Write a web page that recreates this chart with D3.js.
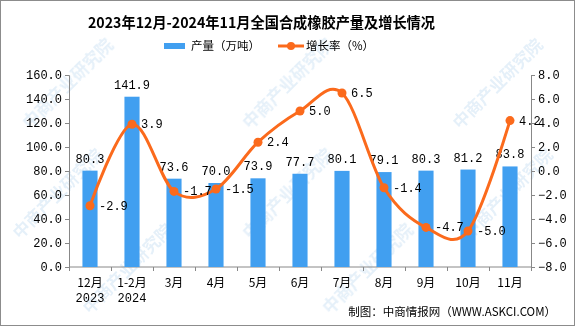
<!DOCTYPE html>
<html>
<head>
<meta charset="utf-8">
<script src="https://cdn.jsdelivr.net/npm/d3@7"></script>
<style>
  body { margin: 0; background: #fff; }
  svg { display: block; }
  .tick text { font-family: "Liberation Mono", monospace; font-size: 12px; fill: #000; }
</style>
</head>
<body>
<div id="chart"></div>
<script>
// chart data
const months = ["12月", "1-2月", "3月", "4月", "5月", "6月", "7月", "8月", "9月", "10月", "11月"];
const years = ["2023", "2024", "", "", "", "", "", "", "", "", ""];
const production = [80.3, 141.9, 73.6, 70.0, 73.9, 77.7, 80.1, 79.1, 80.3, 81.2, 83.8];
const growth = [-2.9, 3.9, -1.7, -1.5, 2.4, 5.0, 6.5, -1.4, -4.7, -5.0, 4.2];
const leftTicks = [0, 20, 40, 60, 80, 100, 120, 140, 160];
const rightTicks = [-8, -6, -4, -2, 0, 2, 4, 6, 8];

const width = 575, height = 326;
const margin = {top: 75, right: 44, bottom: 59, left: 69};

const svg = d3.select("#chart").append("svg")
  .attr("width", width)
  .attr("height", height);

// outer border
svg.append("rect")
  .attr("x", 0.5).attr("y", 0.5)
  .attr("width", width - 1).attr("height", height - 1)
  .attr("fill", "#fff")
  .attr("stroke", "#8c8c8c");

// faint watermark
const wm = svg.append("g").attr("fill", "#b5d4ee").attr("opacity", 0.35)
  .style("font-family", "Noto Sans CJK SC").style("font-size", "17px").style("font-weight", "bold");
[[30, 130], [250, 130], [460, 130], [90, 315], [330, 315], [20, 240], [250, 240], [470, 240]]
  .forEach(function(p) {
    wm.append("text")
      .attr("transform", "translate(" + p[0] + "," + p[1] + ") rotate(-45)")
      .text("中商产业研究院");
  });

const x = d3.scaleBand()
  .domain(d3.range(months.length))
  .range([margin.left, width - margin.right])
  .paddingInner(0.64)
  .paddingOuter(0.32);

const xEdge = d3.scaleLinear()
  .domain([0, months.length])
  .range([margin.left, width - margin.right]);

const yL = d3.scaleLinear().domain([0, 160]).range([height - margin.bottom, margin.top]);
const yR = d3.scaleLinear().domain([-8, 8]).range([height - margin.bottom, margin.top]);

// left axis
const axL = svg.append("g")
  .attr("transform", "translate(" + margin.left + ",0)")
  .call(d3.axisLeft(yL).tickValues(leftTicks).tickFormat(d3.format(".1f")).tickSize(4).tickPadding(3));
axL.selectAll("path, line").attr("stroke", "#888");

// right axis
const axR = svg.append("g")
  .attr("transform", "translate(" + (width - margin.right) + ",0)")
  .call(d3.axisRight(yR).tickValues(rightTicks).tickFormat(d3.format(".1f")).tickSize(4).tickPadding(3));
axR.selectAll("path, line").attr("stroke", "#888");

// bottom axis line + ticks between categories
const base = yL(0);
svg.append("line")
  .attr("x1", margin.left).attr("x2", width - margin.right)
  .attr("y1", base).attr("y2", base)
  .attr("stroke", "#888");
svg.selectAll(".xtick")
  .data(d3.range(months.length + 1)).enter()
  .append("line")
  .attr("class", "xtick")
  .attr("x1", (d) => Math.round(xEdge(d)) + 0.5)
  .attr("x2", (d) => Math.round(xEdge(d)) + 0.5)
  .attr("y1", base).attr("y2", base + 4)
  .attr("stroke", "#888");

// bars
svg.selectAll(".bar")
  .data(production).enter()
  .append("rect")
  .attr("class", "bar")
  .attr("x", (d, i) => x(i))
  .attr("width", x.bandwidth())
  .attr("y", (d) => yL(d))
  .attr("height", (d) => base - yL(d))
  .attr("fill", "#419ff0");

// bar labels
svg.selectAll(".barLabel")
  .data(production).enter()
  .append("text")
  .attr("class", "barLabel")
  .attr("x", (d, i) => x(i) + x.bandwidth() / 2)
  .attr("y", (d) => yL(d) - 8)
  .attr("text-anchor", "middle")
  .style("font-family", "Liberation Mono, monospace")
  .style("font-size", "12px")
  .text((d) => d.toFixed(1));

// growth line
const cx = (i) => x(i) + x.bandwidth() / 2;
const line = d3.line()
  .x((d, i) => cx(i))
  .y((d) => yR(d))
  .curve(d3.curveCardinal.tension(0));

svg.append("path")
  .datum(growth)
  .attr("d", line)
  .attr("fill", "none")
  .attr("stroke", "#fb6a1c")
  .attr("stroke-width", 3);

svg.selectAll(".dot")
  .data(growth).enter()
  .append("circle")
  .attr("class", "dot")
  .attr("cx", (d, i) => cx(i))
  .attr("cy", (d) => yR(d))
  .attr("r", 4.5)
  .attr("fill", "#fb6a1c");

svg.selectAll(".gLabel")
  .data(growth).enter()
  .append("text")
  .attr("class", "gLabel")
  .attr("x", (d, i) => cx(i) + 9)
  .attr("y", (d) => yR(d) + 4)
  .style("font-family", "Liberation Mono, monospace")
  .style("font-size", "12px")
  .text((d) => d.toFixed(1));

// x labels
const xl = svg.append("g")
  .style("font-family", "Noto Sans CJK SC")
  .style("font-size", "12px");
xl.selectAll(".m")
  .data(months).enter()
  .append("text")
  .attr("x", (d, i) => cx(i))
  .attr("y", 287)
  .attr("text-anchor", "middle")
  .text((d) => d);
xl.selectAll(".yr")
  .data(years).enter()
  .append("text")
  .attr("x", (d, i) => cx(i))
  .attr("y", 302)
  .attr("text-anchor", "middle")
  .style("font-family", "Liberation Mono, monospace")
  .text((d) => d);

// title
svg.append("text")
  .attr("x", 88).attr("y", 28)
  .attr("textLength", 347)
  .attr("lengthAdjust", "spacingAndGlyphs")
  .style("font-family", "Noto Sans CJK SC")
  .style("font-size", "15px")
  .style("font-weight", "bold")
  .text("2023年12月-2024年11月全国合成橡胶产量及增长情况");

// legend
const lg = svg.append("g")
  .style("font-family", "Noto Sans CJK SC")
  .style("font-size", "11.5px");
lg.append("rect")
  .attr("x", 164).attr("y", 43).attr("width", 21).attr("height", 6)
  .attr("fill", "#419ff0");
lg.append("text").attr("x", 191).attr("y", 50).text("产量（万吨）");
lg.append("line")
  .attr("x1", 278).attr("x2", 304).attr("y1", 46).attr("y2", 46)
  .attr("stroke", "#fb6a1c").attr("stroke-width", 3);
lg.append("circle").attr("cx", 291).attr("cy", 46).attr("r", 4).attr("fill", "#fb6a1c");
lg.append("text").attr("x", 306).attr("y", 50).text("增长率（%）");

// source
svg.append("text")
  .attr("x", 556).attr("y", 316)
  .attr("text-anchor", "end")
  .style("font-family", "Noto Sans CJK SC")
  .style("font-size", "11.5px")
  .text("制图：中商情报网（WWW.ASKCI.COM）");
</script>
</body>
</html>
